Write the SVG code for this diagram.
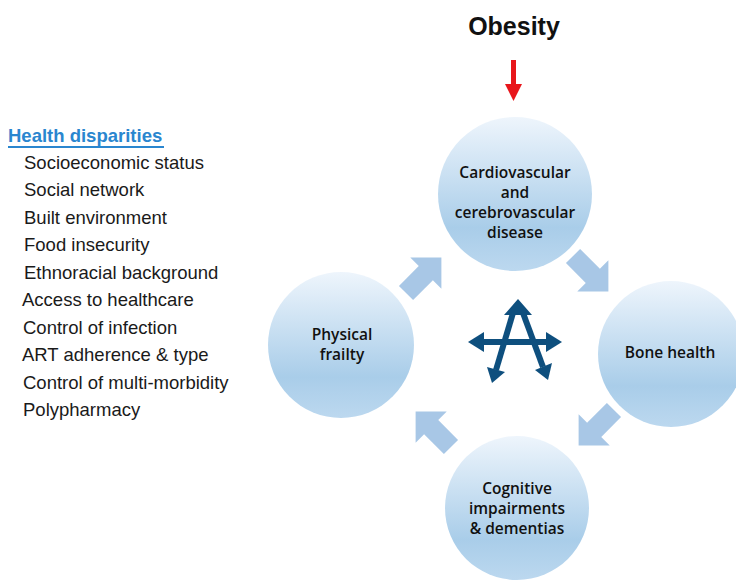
<svg xmlns="http://www.w3.org/2000/svg" width="736" height="580" viewBox="0 0 736 580">
<defs>
<linearGradient id="cg" x1="0" y1="0" x2="0" y2="1">
<stop offset="0" stop-color="#eef5fc"/>
<stop offset="0.72" stop-color="#a9cde9"/>
<stop offset="1" stop-color="#bcd8ef"/>
</linearGradient>
<polygon id="blk" points="-24,-10 4,-10 4,-22 26,0 4,22 4,10 -24,10"/>
</defs>
<style>
.node circle{fill:url(#cg)}
.nt{font-family:"Open Sans","DejaVu Sans",sans-serif;font-size:15.5px;font-weight:600;fill:#111;text-anchor:middle}
.li{font-family:"Liberation Sans",Arial,sans-serif;font-size:18.5px;fill:#1a1a1a}
.blkarrow{fill:#a8c7e6}
.sym{fill:#0e4f7e}
.symline{stroke:#0e4f7e;stroke-width:6;fill:none}
</style>
<rect width="736" height="580" fill="#fff"/>

<g id="obesity">
<text x="514" y="35" font-family="'Liberation Sans',Arial,sans-serif" font-size="25" font-weight="bold" fill="#111" text-anchor="middle">Obesity</text>
<rect x="511" y="60" width="5" height="26" fill="#e8161b"/>
<polygon points="505,84 522,84 513.5,101" fill="#e8161b"/>
</g>

<g id="health-disparities">
<text x="8" y="142" font-family="'Liberation Sans',Arial,sans-serif" font-size="18.5" font-weight="bold" fill="#2a86cf">Health disparities</text>
<rect x="8" y="146" width="156" height="2" fill="#2a86cf"/>
<text class="li" x="24" y="169">Socioeconomic status</text>
<text class="li" x="24" y="196">Social network</text>
<text class="li" x="24" y="224">Built environment</text>
<text class="li" x="24" y="251">Food insecurity</text>
<text class="li" x="24" y="279">Ethnoracial background</text>
<text class="li" x="22" y="306">Access to healthcare</text>
<text class="li" x="23" y="334">Control of infection</text>
<text class="li" x="22" y="361">ART adherence &amp; type</text>
<text class="li" x="23" y="389">Control of multi-morbidity</text>
<text class="li" x="23" y="416">Polypharmacy</text>
</g>

<g id="n-cardio" class="node">
<circle cx="515" cy="194" r="77"/>
<text class="nt" x="515" y="178">Cardiovascular</text>
<text class="nt" x="515" y="198">and</text>
<text class="nt" x="515" y="218">cerebrovascular</text>
<text class="nt" x="515" y="238">disease</text>
</g>
<g id="n-bone" class="node">
<circle cx="671" cy="354" r="73"/>
<text class="nt" x="670" y="358">Bone health</text>
</g>
<g id="n-cognitive" class="node">
<circle cx="517" cy="508" r="72"/>
<text class="nt" x="517" y="494">Cognitive</text>
<text class="nt" x="517" y="514">impairments</text>
<text class="nt" x="517" y="534">&amp; dementias</text>
</g>
<g id="n-frailty" class="node">
<circle cx="341" cy="345" r="73"/>
<text class="nt" x="342" y="340">Physical</text>
<text class="nt" x="342" y="360">frailty</text>
</g>

<g id="connectors" class="blkarrow">
<use href="#blk" transform="translate(423,276) rotate(-45)"/>
<use href="#blk" transform="translate(590,273) rotate(45)"/>
<use href="#blk" transform="translate(597,427) rotate(135)"/>
<use href="#blk" transform="translate(434,430) rotate(-135)"/>
</g>

<g id="center-symbol">
<line class="symline" x1="481" y1="342" x2="549" y2="342"/>
<polygon class="sym" points="468,342 484,332 484,352"/>
<polygon class="sym" points="562,342 546,332 546,352"/>
<polygon class="sym" points="518,299 504,315 532,315"/>
<line class="symline" x1="513" y1="313" x2="496" y2="370"/>
<line class="symline" x1="523" y1="313" x2="543" y2="367"/>
<polygon class="sym" points="492,383 505,372 487,367"/>
<polygon class="sym" points="548,380 552,363 535,370"/>
</g>
</svg>
